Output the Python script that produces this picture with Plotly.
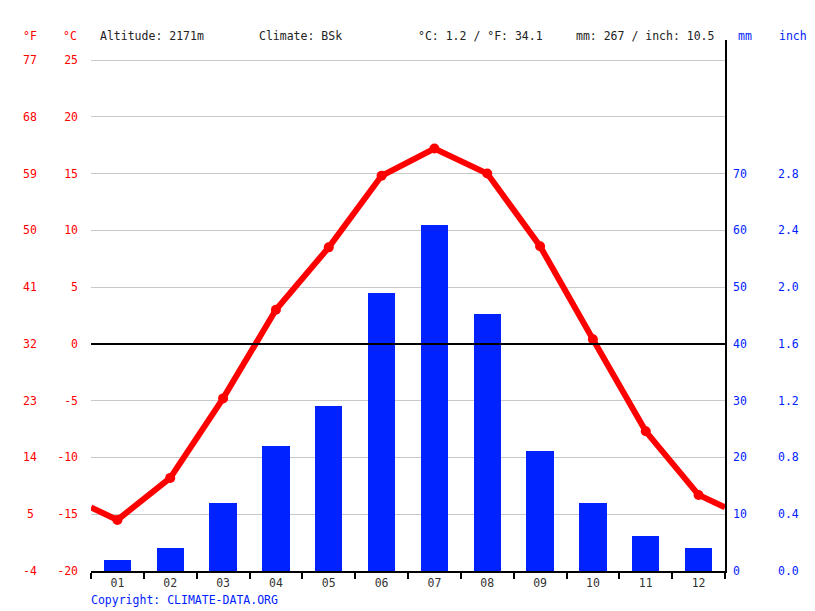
import plotly.graph_objects as go

months = ["01", "02", "03", "04", "05", "06", "07", "08", "09", "10", "11", "12"]
temp_c = [-15.5, -11.8, -4.8, 3.0, 8.5, 14.8, 17.2, 15.0, 8.6, 0.4, -7.7, -13.3]
precip_mm = [2, 4, 12, 22, 29, 49, 61, 45.3, 21.2, 12, 6.2, 4]

c_ticks = [-20, -15, -10, -5, 0, 5, 10, 15, 20, 25]
f_labels = ["-4", "5", "14", "23", "32", "41", "50", "59", "68", "77"]
mm_ticks = [0, 10, 20, 30, 40, 50, 60, 70]
inch_labels = ["0.0", "0.4", "0.8", "1.2", "1.6", "2.0", "2.4", "2.8"]

FONT = "DejaVu Sans Mono"
RED = "#ff0000"
BLUE = "#0022ff"
FS = 11.5

W, H = 815, 611
L, R, T, B = 91, 90, 40, 40
pw = W - L - R
ph = H - T - B

# temperature axis: -20 at bottom, 25 at y=60
px_per_deg = (571 - 60) / 45.0
t_top = 25 + (60 - T) / px_per_deg
t_range = [-20, t_top]
mm_range = [0, 2 * (t_top + 20)]

xs = list(range(1, 13))
edge = (temp_c[0] + temp_c[-1]) / 2
line_x = [0.5] + xs + [12.5]
line_y = [edge] + temp_c + [edge]

fig = go.Figure()
fig.add_trace(go.Bar(x=xs, y=precip_mm, marker=dict(color=BLUE, line=dict(width=0)),
                     width=0.52, yaxis="y", showlegend=False, hoverinfo="skip"))
fig.add_trace(go.Scatter(x=line_x, y=line_y, mode="lines", yaxis="y2",
                         line=dict(color=RED, width=6), showlegend=False, hoverinfo="skip"))
fig.add_trace(go.Scatter(x=xs, y=temp_c, mode="markers", yaxis="y2",
                         marker=dict(color=RED, size=10), showlegend=False, hoverinfo="skip"))

fig.update_layout(
    width=W, height=H,
    margin=dict(l=L, r=R, t=T, b=B),
    paper_bgcolor="white", plot_bgcolor="white",
    font=dict(family=FONT, size=FS),
    bargap=0,
    xaxis=dict(range=[0.5, 12.5], tickvals=xs, ticktext=months, ticks="",
               showgrid=False, zeroline=False, showline=True, linecolor="black", linewidth=1.5,
               tickfont=dict(color="#333333", size=FS),
               minor=dict(tickvals=[i + 0.5 for i in range(0, 13)], ticks="outside",
                          ticklen=6, tickcolor="black", tickwidth=1.5, showgrid=False)),
    yaxis=dict(range=mm_range, side="right", tickvals=mm_ticks, ticktext=[str(v) for v in mm_ticks],
               showgrid=False, zeroline=False, showline=True, linecolor="black", linewidth=1.5,
               ticks="", tickfont=dict(color=BLUE, size=FS), ticklabelstandoff=4),
    yaxis2=dict(range=t_range, overlaying="y", side="left", tickvals=c_ticks,
                ticktext=[str(v) for v in c_ticks], showgrid=True, gridcolor="#c8c8c8", gridwidth=1,
                zeroline=False, showline=False, ticks="",
                tickfont=dict(color=RED, size=FS), ticklabelstandoff=12),
)

# zero line above bars
fig.add_shape(type="line", xref="paper", x0=0, x1=1, yref="y2", y0=0, y1=0,
              line=dict(color="black", width=2), layer="above")


def ypaper(ypix):
    return (H - B - ypix) / ph


ann = []
fx = (30 - L) / pw
for c, f in zip(c_ticks, f_labels):
    ann.append(dict(x=fx, y=c, xref="paper", yref="y2", text=f, showarrow=False,
                    xanchor="center", yanchor="middle", font=dict(color=RED, size=FS)))
ix = (776 - L) / pw
for m, s in zip(mm_ticks, inch_labels):
    ann.append(dict(x=ix, y=m, xref="paper", yref="y", text=s, showarrow=False,
                    xanchor="left", yanchor="middle", font=dict(color=BLUE, size=FS)))

header = [(30, "°F", RED, "center"), (70, "°C", RED, "center"),
          (98, "Altitude: 2171m", "#222222", "left"), (257, "Climate: BSk", "#222222", "left"),
          (416, "°C: 1.2 / °F: 34.1", "#222222", "left"), (574, "mm: 267 / inch: 10.5", "#222222", "left"),
          (736, "mm", BLUE, "left"), (777, "inch", BLUE, "left")]
for xp, txt, col, anc in header:
    ann.append(dict(x=(xp - L) / pw, y=ypaper(36), xref="paper", yref="paper", yanchor="middle",
                    text=txt, showarrow=False, xanchor=anc, font=dict(color=col, size=FS)))

ann.append(dict(x=(89 - L) / pw, y=ypaper(600), xref="paper", yref="paper", yanchor="middle",
                xanchor="left", text="Copyright: CLIMATE-DATA.ORG", showarrow=False,
                font=dict(color=BLUE, size=FS)))

fig.update_layout(annotations=ann)
fig.write_html("out.html")
